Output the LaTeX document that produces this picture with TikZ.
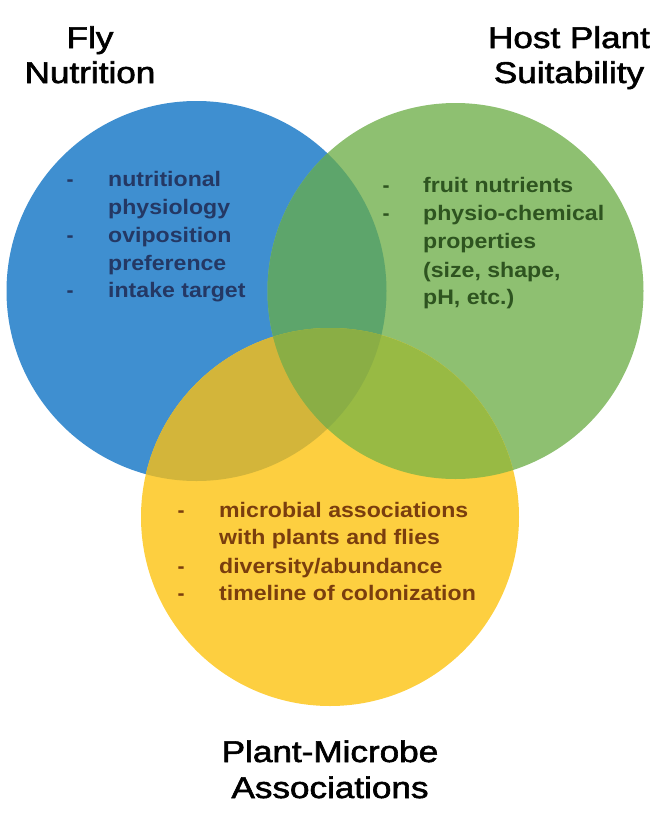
\documentclass[tikz,border=0pt]{standalone}
\usepackage{fontspec}
\setmainfont{Liberation Sans}
\newfontfamily\titlefont[FakeBold=1.8]{Liberation Sans}
\definecolor{cblue}{RGB}{63,143,208}
\definecolor{cgreen}{RGB}{142,192,113}
\definecolor{cyellow}{RGB}{253,207,64}
\definecolor{cbg}{RGB}{93,165,107}
\definecolor{cby}{RGB}{211,181,58}
\definecolor{cgy}{RGB}{152,186,68}
\definecolor{call}{RGB}{138,174,69}
\definecolor{tblue}{RGB}{36,56,100}
\definecolor{tgreen}{RGB}{46,84,32}
\definecolor{tyellow}{RGB}{122,62,14}
\newcommand{\tstretch}[1]{\scalebox{1.17}[1]{#1}}
\newcommand{\bstretch}[1]{\scalebox{1.1}[1]{#1}}
\begin{document}
\begin{tikzpicture}[x=1pt,y=-1pt,
  titletext/.style={font=\titlefont\fontsize{30}{34}\selectfont, text=black, inner sep=0pt, anchor=base},
  bodytext/.style={font=\bfseries\fontsize{21}{24}\selectfont, inner sep=0pt, anchor=base west},
  dashmark/.style={font=\bfseries\fontsize{21}{24}\selectfont, inner sep=0pt, anchor=base}]
\useasboundingbox (0,0) rectangle (661,814);
\coordinate (B) at (196.5,291);
\coordinate (G) at (455.5,291);
\coordinate (Y) at (330,517);
\fill[cblue] (B) circle[radius=190pt];
\fill[cgreen] (G) circle[radius=188pt];
\fill[cyellow] (Y) circle[radius=189pt];
\begin{scope}
  \clip (B) circle[radius=190pt];
  \fill[cbg] (G) circle[radius=188pt];
\end{scope}
\begin{scope}
  \clip (B) circle[radius=190pt];
  \fill[cby] (Y) circle[radius=189pt];
\end{scope}
\begin{scope}
  \clip (G) circle[radius=188pt];
  \fill[cgy] (Y) circle[radius=189pt];
\end{scope}
\begin{scope}
  \clip (B) circle[radius=190pt];
  \clip (G) circle[radius=188pt];
  \fill[call] (Y) circle[radius=189pt];
\end{scope}
% titles
\node[titletext] (t1a) at (90,48) {\tstretch{Fly}};
\node[titletext] (t1b) at (90,83) {\tstretch{Nutrition}};
\node[titletext] (t2a) at (569,48) {\tstretch{Host Plant}};
\node[titletext] (t2b) at (569,83) {\tstretch{Suitability}};
\node[titletext] (t3a) at (330,762) {\tstretch{Plant-Microbe}};
\node[titletext] (t3b) at (330,798) {\tstretch{Associations}};
% blue text
\begin{scope}[every node/.append style={text=tblue}]
\node[dashmark] (bd1) at (70,186) {-};
\node[dashmark] (bd2) at (70,242) {-};
\node[dashmark] (bd3) at (70,297) {-};
\node[bodytext] (b1) at (108,186) {\bstretch{nutritional}};
\node[bodytext] (b2) at (108,214) {\bstretch{physiology}};
\node[bodytext] (b3) at (108,242) {\bstretch{oviposition}};
\node[bodytext] (b4) at (108,270) {\bstretch{preference}};
\node[bodytext] (b5) at (108,297) {\bstretch{intake target}};
\end{scope}
% green text
\begin{scope}[every node/.append style={text=tgreen}]
\node[dashmark] (gd1) at (386,192) {-};
\node[dashmark] (gd2) at (386,220) {-};
\node[bodytext] (g1) at (423,192) {\bstretch{fruit nutrients}};
\node[bodytext] (g2) at (423,220) {\bstretch{physio-chemical}};
\node[bodytext] (g3) at (423,248) {\bstretch{properties}};
\node[bodytext] (g4) at (423,277) {\bstretch{(size, shape,}};
\node[bodytext] (g5) at (423,304) {\bstretch{pH, etc.)}};
\end{scope}
% yellow text
\begin{scope}[every node/.append style={text=tyellow}]
\node[dashmark] (yd1) at (181,517) {-};
\node[dashmark] (yd2) at (181,573) {-};
\node[dashmark] (yd3) at (181,600) {-};
\node[bodytext] (y1) at (219,517) {\bstretch{microbial associations}};
\node[bodytext] (y2) at (219,544) {\bstretch{with plants and flies}};
\node[bodytext] (y3) at (219,573) {\bstretch{diversity/abundance}};
\node[bodytext] (y4) at (219,600) {\bstretch{timeline of colonization}};
\end{scope}
\end{tikzpicture}
\end{document}
